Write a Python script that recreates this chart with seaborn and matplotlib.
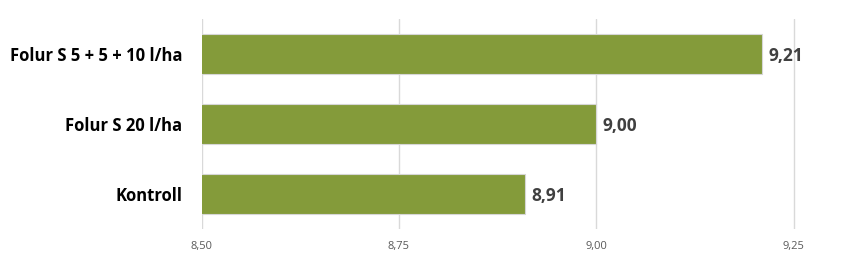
import matplotlib
matplotlib.use("Agg")
import matplotlib.pyplot as plt
import seaborn as sns
import pandas as pd
from matplotlib.ticker import FuncFormatter

categories = ["Folur S 5 + 5 + 10 l/ha", "Folur S 20 l/ha", "Kontroll"]
values = [9.21, 9.00, 8.91]
xticks = [8.50, 8.75, 9.00, 9.25]

df = pd.DataFrame({"cat": categories, "val": values})

sns.set_theme(style="white")
plt.rcParams["font.family"] = ["Open Sans", "DejaVu Sans"]

fig = plt.figure(figsize=(8.46, 2.6), dpi=100)
ax = fig.add_axes([201.5/846, 1-229/260, (833-201.5)/846, 210/260])

sns.barplot(data=df, x="val", y="cat", orient="h", color="#849B3A",
            saturation=1, width=0.57, edgecolor="#d6d6d6", linewidth=0.8, ax=ax,
            zorder=3)
ax.set_xlim(8.5, 9.3)
ax.set_xticks(xticks)
ax.xaxis.set_major_formatter(FuncFormatter(lambda v, p: f"{v:.2f}".replace(".", ",")))
ax.grid(axis="x", color="#d9d9d9", linewidth=1, zorder=0)
ax.set_axisbelow(True)
for s in ax.spines.values():
    s.set_visible(False)
ax.set_xlabel("")
ax.set_ylabel("")
ax.tick_params(axis="x", length=0, labelsize=8, labelcolor="#595959", pad=9)
ax.tick_params(axis="y", length=0, pad=14)
for lbl in ax.get_yticklabels():
    lbl.set_fontweight("bold")
    lbl.set_fontsize(12)
    lbl.set_color("black")

for i, v in enumerate(values):
    ax.text(v + 0.008, i + 0.03, f"{v:.2f}".replace(".", ","), va="center", ha="left",
            fontsize=12.5, fontweight="bold", color="#404040")

fig.savefig("out.png", dpi=100)
